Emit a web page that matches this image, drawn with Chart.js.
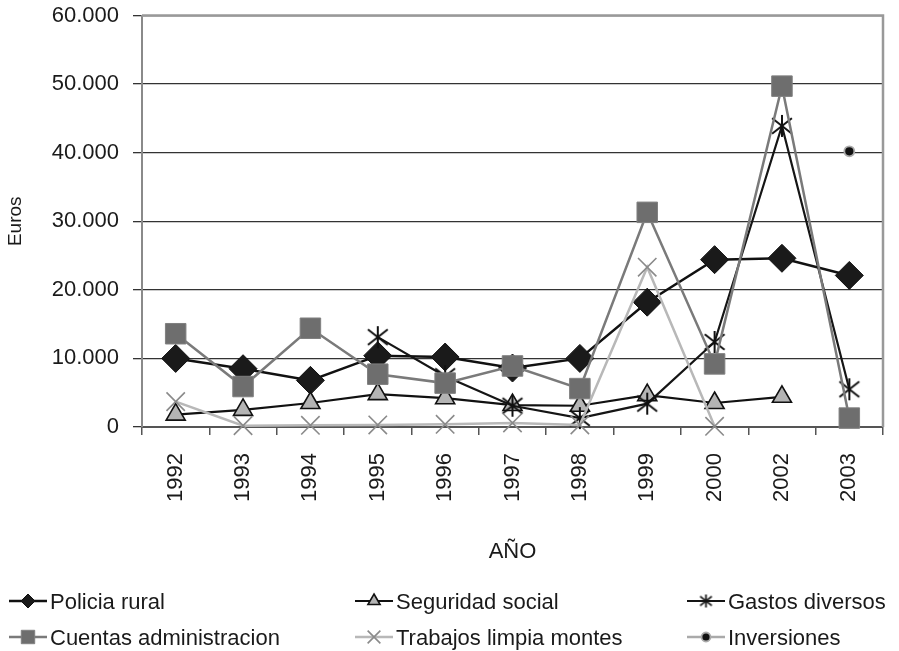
<!DOCTYPE html>
<html>
<head>
<meta charset="utf-8">
<script src="https://cdn.jsdelivr.net/npm/chart.js@4/dist/chart.umd.min.js"></script>
<style>
  body { margin: 0; background: #fff; }
  #wrap { width: 899px; height: 651px; position: relative; }
</style>
</head>
<body>
<div id="wrap"><canvas id="chart"></canvas></div>
<script>
// datos (euros por año)
const years = ['1992', '1993', '1994', '1995', '1996', '1997', '1998', '1999', '2000', '2002', '2003'];
const policiaRural    = [10000, 8500, 6800, 10400, 10200, 8600, 10000, 18200, 24400, 24600, 22100];
const seguridadSocial = [1800, 2500, 3500, 4800, 4200, 3200, 3100, 4650, 3500, 4400, null];
const gastosDiversos  = [null, null, null, 13100, 7400, 3100, 1300, 3400, 12400, 43900, 5500];
const cuentasAdmin    = [13600, 5900, 14400, 7700, 6400, 8900, 5600, 31300, 9200, 49700, 1300];
const trabajosMontes  = [3700, 200, 250, 300, 400, 600, 300, 23300, 100, null, null];
const inversiones     = [null, null, null, null, null, null, null, null, null, null, 40200];
const yMin = 0, yMax = 60000, yStep = 10000;

const FONT = '"Liberation Sans", Arial, Helvetica, sans-serif';

// asterisco de 6 brazos para "Gastos diversos"
function makeAsterisk(size, lw) {
  const c = document.createElement('canvas');
  c.width = size; c.height = size;
  const g = c.getContext('2d');
  const m = size / 2, r = size / 2 - 1;
  g.strokeStyle = '#111';
  g.lineWidth = lw;
  g.beginPath();
  g.moveTo(m, m - r); g.lineTo(m, m + r);
  g.moveTo(m - r * 0.9, m - r * 0.7); g.lineTo(m + r * 0.9, m + r * 0.7);
  g.moveTo(m - r * 0.9, m + r * 0.7); g.lineTo(m + r * 0.9, m - r * 0.7);
  g.stroke();
  return c;
}
const asteriskBig = makeAsterisk(24, 2);
const asteriskSmall = makeAsterisk(15, 1.7);

const series = [
  { label: 'Policia rural', data: policiaRural, borderColor: '#111', borderWidth: 2.5,
    pointStyle: 'rectRot', pointRadius: 14, pointBackgroundColor: '#1a1a1a', pointBorderColor: '#111', pointBorderWidth: 1,
    legendStyle: 'rectRot', legendRadius: 7 },
  { label: 'Seguridad social', data: seguridadSocial, borderColor: '#111', borderWidth: 2.2,
    pointStyle: 'triangle', pointRadius: 11, pointBackgroundColor: '#b4b4b4', pointBorderColor: '#111', pointBorderWidth: 1.6,
    legendStyle: 'triangle', legendRadius: 7 },
  { label: 'Gastos diversos', data: gastosDiversos, borderColor: '#151515', borderWidth: 2.2,
    pointStyle: asteriskBig, pointRadius: 11, pointBackgroundColor: '#111', pointBorderColor: '#111', pointBorderWidth: 1.5,
    legendStyle: asteriskSmall, legendRadius: 7 },
  { label: 'Cuentas administracion', data: cuentasAdmin, borderColor: '#7a7a7a', borderWidth: 2.5,
    pointStyle: 'rect', pointRadius: 14.5, pointBackgroundColor: '#6e6e6e', pointBorderColor: '#808080', pointBorderWidth: 1,
    legendStyle: 'rect', legendRadius: 9.5 },
  { label: 'Trabajos limpia montes', data: trabajosMontes, borderColor: '#b8b8b8', borderWidth: 2.5,
    pointStyle: 'crossRot', pointRadius: 13, pointBackgroundColor: '#888', pointBorderColor: '#8a8a8a', pointBorderWidth: 1.6,
    legendStyle: 'crossRot', legendRadius: 9 },
  { label: 'Inversiones', data: inversiones, borderColor: '#aaa', borderWidth: 2.5,
    pointStyle: 'circle', pointRadius: 5, pointBackgroundColor: '#111', pointBorderColor: '#aaa', pointBorderWidth: 1.8,
    legendStyle: 'circle', legendRadius: 4.5 }
];

// la ultima serie se dibuja encima (como en el original)
const datasets = series.map((s, i) => ({
  label: s.label,
  data: s.data,
  borderColor: s.borderColor,
  borderWidth: s.borderWidth,
  pointStyle: s.pointStyle,
  pointRadius: s.pointRadius,
  pointHoverRadius: s.pointRadius,
  pointBackgroundColor: s.pointBackgroundColor,
  pointBorderColor: s.pointBorderColor,
  pointBorderWidth: s.pointBorderWidth,
  fill: false,
  tension: 0,
  spanGaps: false,
  clip: false,
  order: series.length - i
}));

// marco gris arriba y a la derecha
const framePlugin = {
  id: 'frame',
  beforeDatasetsDraw(chart) {
    const { ctx, chartArea: a } = chart;
    ctx.save();
    ctx.strokeStyle = '#999';
    ctx.lineWidth = 2.5;
    ctx.beginPath();
    ctx.moveTo(a.left, a.top);
    ctx.lineTo(a.right, a.top);
    ctx.lineTo(a.right, a.bottom);
    ctx.stroke();
    ctx.restore();
  }
};

// leyenda en 3 columnas y 2 filas
const legendSpots = [[9, 609], [355, 609], [687, 609], [9, 645], [355, 645], [687, 645]];
const legendPlugin = {
  id: 'legend3col',
  afterDraw(chart) {
    const ctx = chart.ctx;
    ctx.save();
    series.forEach((s, i) => {
      const [x0, base] = legendSpots[i];
      const ym = base - 8;
      ctx.strokeStyle = s.borderColor;
      ctx.lineWidth = s.borderWidth;
      ctx.beginPath();
      ctx.moveTo(x0, ym);
      ctx.lineTo(x0 + 38, ym);
      ctx.stroke();
      ctx.fillStyle = s.pointBackgroundColor;
      ctx.strokeStyle = s.pointBorderColor;
      ctx.lineWidth = s.pointBorderWidth;
      Chart.helpers.drawPoint(ctx, { pointStyle: s.legendStyle, radius: s.legendRadius, rotation: 0, borderWidth: s.pointBorderWidth }, x0 + 19, ym);
      ctx.fillStyle = '#1a1a1a';
      ctx.font = '22px ' + FONT;
      ctx.textBaseline = 'alphabetic';
      ctx.textAlign = 'left';
      ctx.fillText(s.label, x0 + 41, base);
    });
    ctx.restore();
  }
};

const chart = new Chart(document.getElementById('chart'), {
  type: 'line',
  data: { labels: years, datasets: datasets },
  plugins: [framePlugin, legendPlugin],
  options: {
    responsive: true,
    maintainAspectRatio: false,
    animation: false,
    layout: { padding: { left: 0, right: 16, top: 14, bottom: 82 } },
    plugins: {
      legend: { display: false },
      tooltip: { enabled: false },
      title: { display: false }
    },
    scales: {
      x: {
        offset: true,
        afterFit(scale) { scale.height = 142; scale.paddingTop = 0; scale.paddingBottom = 0; },
        grid: { offset: true, drawOnChartArea: false, drawTicks: true, tickLength: 8, color: '#555', lineWidth: 1.5 },
        border: { color: '#555', width: 2 },
        ticks: {
          autoSkip: false, minRotation: 90, maxRotation: 90, padding: 18,
          color: '#1a1a1a', font: { family: FONT, size: 22 }
        },
        title: { display: true, text: 'AÑO', color: '#1a1a1a', font: { family: FONT, size: 22 } }
      },
      y: {
        min: yMin,
        max: yMax,
        afterFit(scale) { scale.width = 142; scale.paddingTop = 0; scale.paddingBottom = 0; },
        grid: { color: '#333', lineWidth: 1.3, drawTicks: true, tickLength: 9 },
        border: { color: '#8a8a8a', width: 2 },
        ticks: {
          stepSize: yStep, padding: 14, color: '#1a1a1a', font: { family: FONT, size: 22 },
          callback: v => v.toLocaleString('de-DE')
        },
        title: { display: true, text: 'Euros', color: '#1a1a1a', font: { family: FONT, size: 19 } }
      }
    }
  }
});
</script>
</body>
</html>
